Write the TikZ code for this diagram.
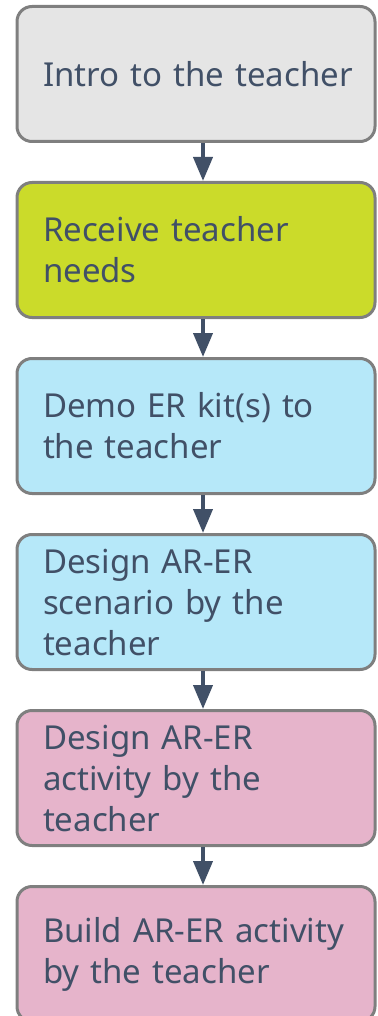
\documentclass[tikz,border=0pt]{standalone}
\usepackage{fontspec}
\setmainfont{Noto Sans}
\usetikzlibrary{positioning,arrows.meta}
\definecolor{stepText}{HTML}{415067}
\definecolor{stepLine}{HTML}{7F7F7F}
\definecolor{stepGray}{HTML}{E5E5E5}
\definecolor{stepLime}{HTML}{CBDB2A}
\definecolor{stepBlue}{HTML}{B6E8F9}
\definecolor{stepPink}{HTML}{E6B4CB}
\begin{document}
\begin{tikzpicture}[x=1pt,y=-1pt,node distance=38pt,
  stepbox/.style={draw=stepLine,line width=3pt,rounded corners=15pt,
    minimum width=358pt,minimum height=135pt,text width=306pt,
    inner xsep=26pt,inner ysep=0pt,align=left,text=stepText,
    font=\fontsize{33}{41}\selectfont},
  flow/.style={draw=stepText,line width=4pt,-{Triangle[width=19pt,length=24pt]}}]
\useasboundingbox (0,0) rectangle (377,1016);
\node[stepbox,fill=stepGray] (intro) at (196,74) {\mbox{Intro to the teacher}};
\node[stepbox,fill=stepLime,below=of intro] (needs) {Receive teacher\\needs};
\node[stepbox,fill=stepBlue,below=of needs] (demo) {Demo ER kit(s) to\\the teacher};
\node[stepbox,fill=stepBlue,below=of demo] (scenario) {Design AR-ER\\scenario by the\\teacher};
\node[stepbox,fill=stepPink,below=of scenario] (activity) {Design AR-ER\\activity by the\\teacher};
\node[stepbox,fill=stepPink,below=of activity] (build) {\mbox{Build AR-ER activity}\\by the teacher};
\draw[flow] (intro.south -| 203,0) -- (needs.north -| 203,0);
\draw[flow] (needs.south -| 203,0) -- (demo.north -| 203,0);
\draw[flow] (demo.south -| 203,0) -- (scenario.north -| 203,0);
\draw[flow] (scenario.south -| 203,0) -- (activity.north -| 203,0);
\draw[flow] (activity.south -| 203,0) -- (build.north -| 203,0);
\end{tikzpicture}
\end{document}
